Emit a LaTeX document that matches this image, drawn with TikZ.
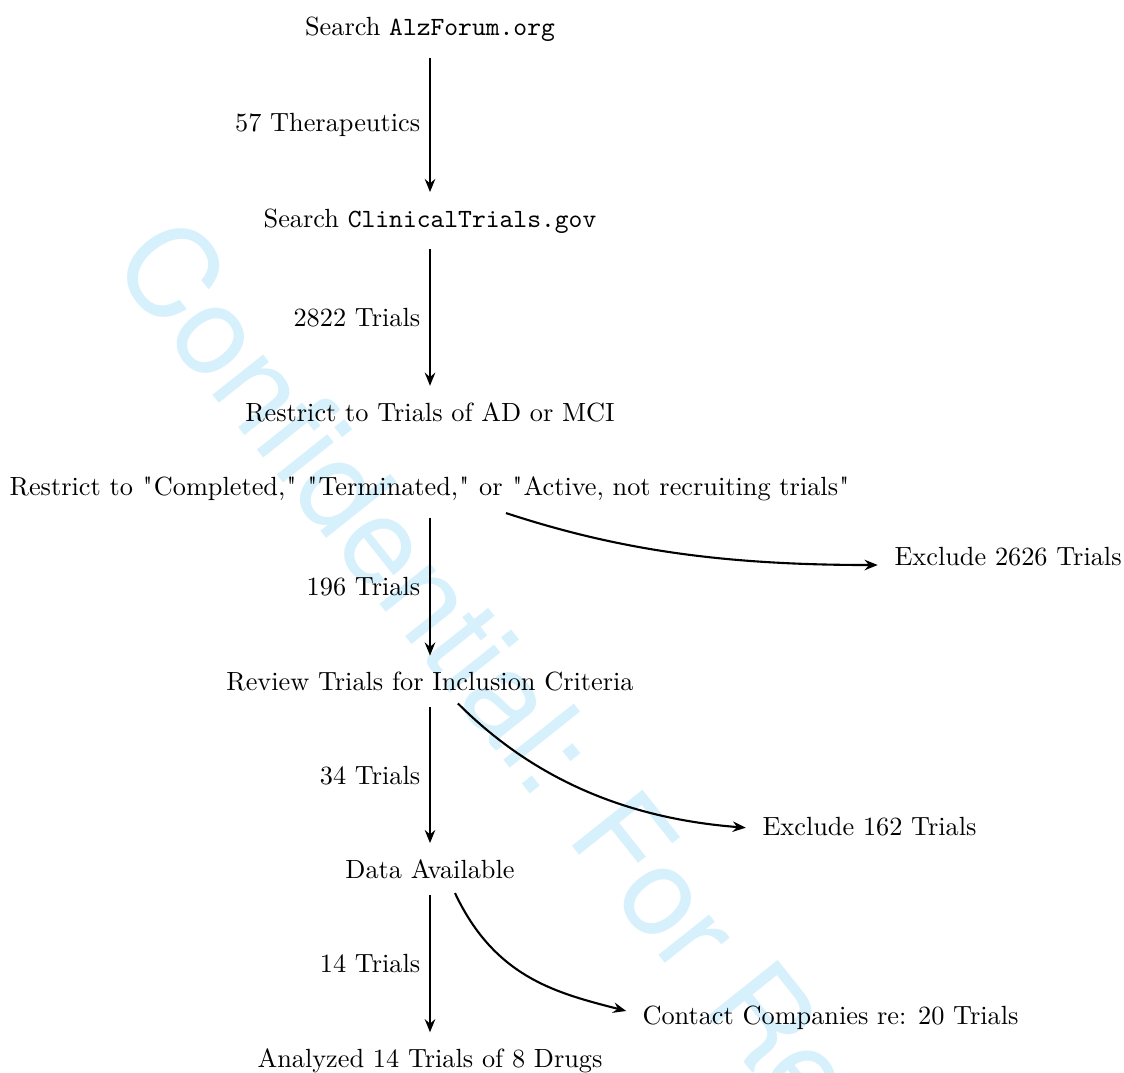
\documentclass[tikz,border=0pt]{standalone}
\usepackage{fontspec}
\newfontfamily\wmfont{TeX Gyre Heros}
\usetikzlibrary{arrows.meta}
\definecolor{wmblue}{RGB}{214,240,252}
\newcommand{\qq}{\kern0.45pt\textquotedbl\kern0.45pt}
\begin{document}
\begin{tikzpicture}[x=0.3802pt,y=-0.3802pt,
  box/.style={inner sep=3.33pt, anchor=base},
  lab/.style={left, inner sep=3.33pt},
  side/.style={anchor=base west, inner sep=0pt},
  wm/.style={anchor=base west, inner sep=0pt, rotate=-51.5, text=wmblue,
             font=\wmfont\fontsize{47}{50}\selectfont},
  tip/.style={-{Stealth[length=5pt,width=4pt,inset=1.7pt]}},
  flow/.style={thick, tip, shorten <=2.7pt, shorten >=2.7pt},
  curv/.style={thick, tip, shorten >=6.2pt}]
\useasboundingbox (0,0) rectangle (1124,1072);
\begin{scope}
  \clip (0,0) rectangle (1124,1072);
  \node[wm] (wmark) at (109,264) {Confidential: For Review};
\end{scope}

\node[box] (n1) at (430,35.5) {Search \texttt{AlzForum.org}};
\node[box] (n2) at (430,227) {Search \texttt{ClinicalTrials.gov}};
\node[box] (n3) at (430,421) {Restrict to Trials of AD or MCI};
\node[box] (n4) at (430,495.7) {Restrict to \qq Completed,\qq{} \qq Terminated,\qq{} or \qq Active, not recruiting trials\qq};
\node[box] (n5) at (430,690.5) {Review Trials for Inclusion Criteria};
\node[box] (n6) at (430,878.3) {Data Available};
\node[box] (n7) at (430,1067.5) {Analyzed 14 Trials of 8 Drugs};

\node[side] (x1) at (894,565) {Exclude 2626 Trials};
\node[side] (x2) at (762,835) {Exclude 162 Trials};
\node[side] (x3) at (642,1024) {Contact Companies re: 20 Trials};

\draw[flow] (n1.south) -- node[lab] {57 Therapeutics} (n2.north);
\draw[flow] (n2.south) -- node[lab] {2822 Trials} (n3.north);
\draw[flow] (n4.south) -- node[lab] {196 Trials} (n5.north);
\draw[flow] (n5.south) -- node[lab] {34 Trials} (n6.north);
\draw[flow] (n6.south) -- node[lab] {14 Trials} (n7.north);

\draw[curv] ([xshift=28.9pt,yshift=-6.6pt]n4.base)
  .. controls +(110,36) and +(-175,0) .. (x1.base west);
\draw[curv] ([xshift=10.6pt,yshift=-4.9pt]n5.base)
  .. controls +(80,80) and +(-129,-10) .. ([yshift=2.3pt]x2.base west);
\draw[curv] ([xshift=9.5pt,yshift=-5.6pt]n6.base)
  .. controls +(40,85) and +(-85,-22) .. ([yshift=3.4pt]x3.base west);
\end{tikzpicture}
\end{document}
